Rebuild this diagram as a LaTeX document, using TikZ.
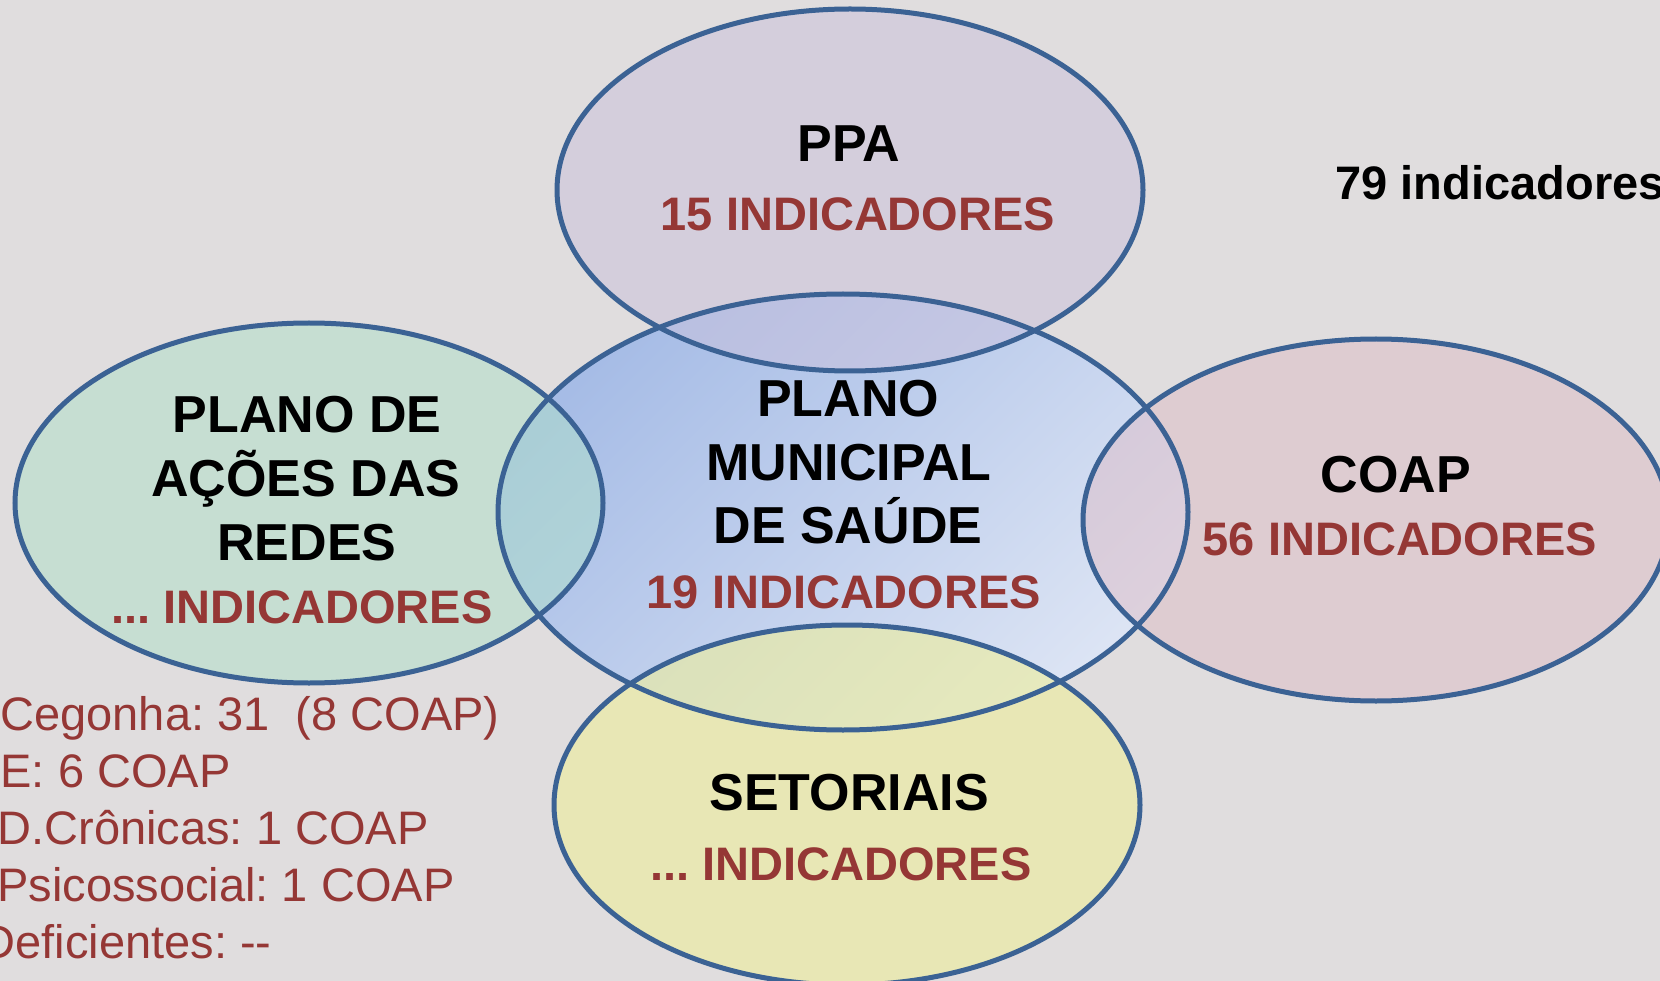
\documentclass[tikz,border=0pt]{standalone}
\usepackage{fontspec}
\setmainfont{Liberation Sans}
\frenchspacing
\definecolor{bgcol}{HTML}{E0DDDE}
\definecolor{rim}{HTML}{3B6294}
\definecolor{wine}{HTML}{953735}
\definecolor{ppafill}{HTML}{CAC1DC}
\definecolor{redefill}{HTML}{AEE0C8}
\definecolor{coapfill}{HTML}{DEBDC6}
\definecolor{setfill}{HTML}{EEEE9A}
\definecolor{pmsdark}{HTML}{A6BCE6}
\definecolor{pmslight}{HTML}{DCE4F4}
\begin{document}
\begin{tikzpicture}[x=1pt,y=-1pt,
    title/.style={font=\fontsize{52}{60}\selectfont\bfseries, anchor=base},
    count/.style={font=\fontsize{47}{56}\selectfont\bfseries, text=wine, anchor=base},
    rede/.style={font=\fontsize{47}{54}\selectfont, text=wine, anchor=base east},
    rim line/.style={draw=rim, line width=5pt}]
    \useasboundingbox (0,0) rectangle (1660,981);
    \clip (0,0) rectangle (1660,981);
    \fill[bgcol] (0,0) rectangle (1660,981);
    % Fills
    \shade[top color=pmsdark, bottom color=pmslight, shading angle=45] (843,512) ellipse [x radius=345, y radius=218];
    \fill[ppafill, fill opacity=0.5] (850,190) ellipse [x radius=293, y radius=181];
    \fill[redefill, fill opacity=0.5] (309,503) ellipse [x radius=294, y radius=180];
    \fill[coapfill, fill opacity=0.5] (1376,520) ellipse [x radius=293, y radius=181];
    \fill[setfill, fill opacity=0.6] (847,805) ellipse [x radius=293, y radius=180];
    % Outlines
    \draw[rim line] (843,512) ellipse [x radius=345, y radius=218];
    \draw[rim line] (850,190) ellipse [x radius=293, y radius=181];
    \draw[rim line] (309,503) ellipse [x radius=294, y radius=180];
    \draw[rim line] (1376,520) ellipse [x radius=293, y radius=181];
    \draw[rim line] (847,805) ellipse [x radius=293, y radius=180];
    % PPA
    \node[title] (ppa) at (849,162) {PPA};
    \node[count] (ppaind) at (858,231) {15 INDICADORES};
    \node[title, anchor=base west, font=\fontsize{47}{56}\selectfont\bfseries] (total) at (1332,200) {79 indicadores};
    % Plano de acoes das redes
    \node[title] (redes1) at (307,432) {PLANO DE};
    \node[title] (redes2) at (306,496) {AÇÕES DAS};
    \node[title] (redes3) at (307,560) {REDES};
    \node[count] (redesind) at (302,623) {... INDICADORES};
    % Plano municipal de saude
    \node[title] (pms1) at (848,417) {PLANO};
    \node[title] (pms2) at (849,480) {MUNICIPAL};
    \node[title] (pms3) at (848,543) {DE SAÚDE};
    \node[count] (pmsind) at (844,608) {19 INDICADORES};
    % COAP
    \node[title] (coap) at (1396,492) {COAP};
    \node[count] (coapind) at (1400,555) {56 INDICADORES};
    % Setoriais
    \node[title] (set) at (849,810) {SETORIAIS};
    \node[count] (setind) at (841,880) {... INDICADORES};
    % Redes list
    \node[rede] (cegonha) at (503,730) {Cegonha: 31\ \ (8 COAP)};
    \node[rede] (rue) at (234,787) {E: 6 COAP};
    \node[rede] (cronicas) at (432,844) {D.Crônicas: 1 COAP};
    \node[rede] (psico) at (458,901) {Psicossocial: 1 COAP};
    \node[rede] (defic) at (275,958) {Deficientes: -{}-};
\end{tikzpicture}
\end{document}
